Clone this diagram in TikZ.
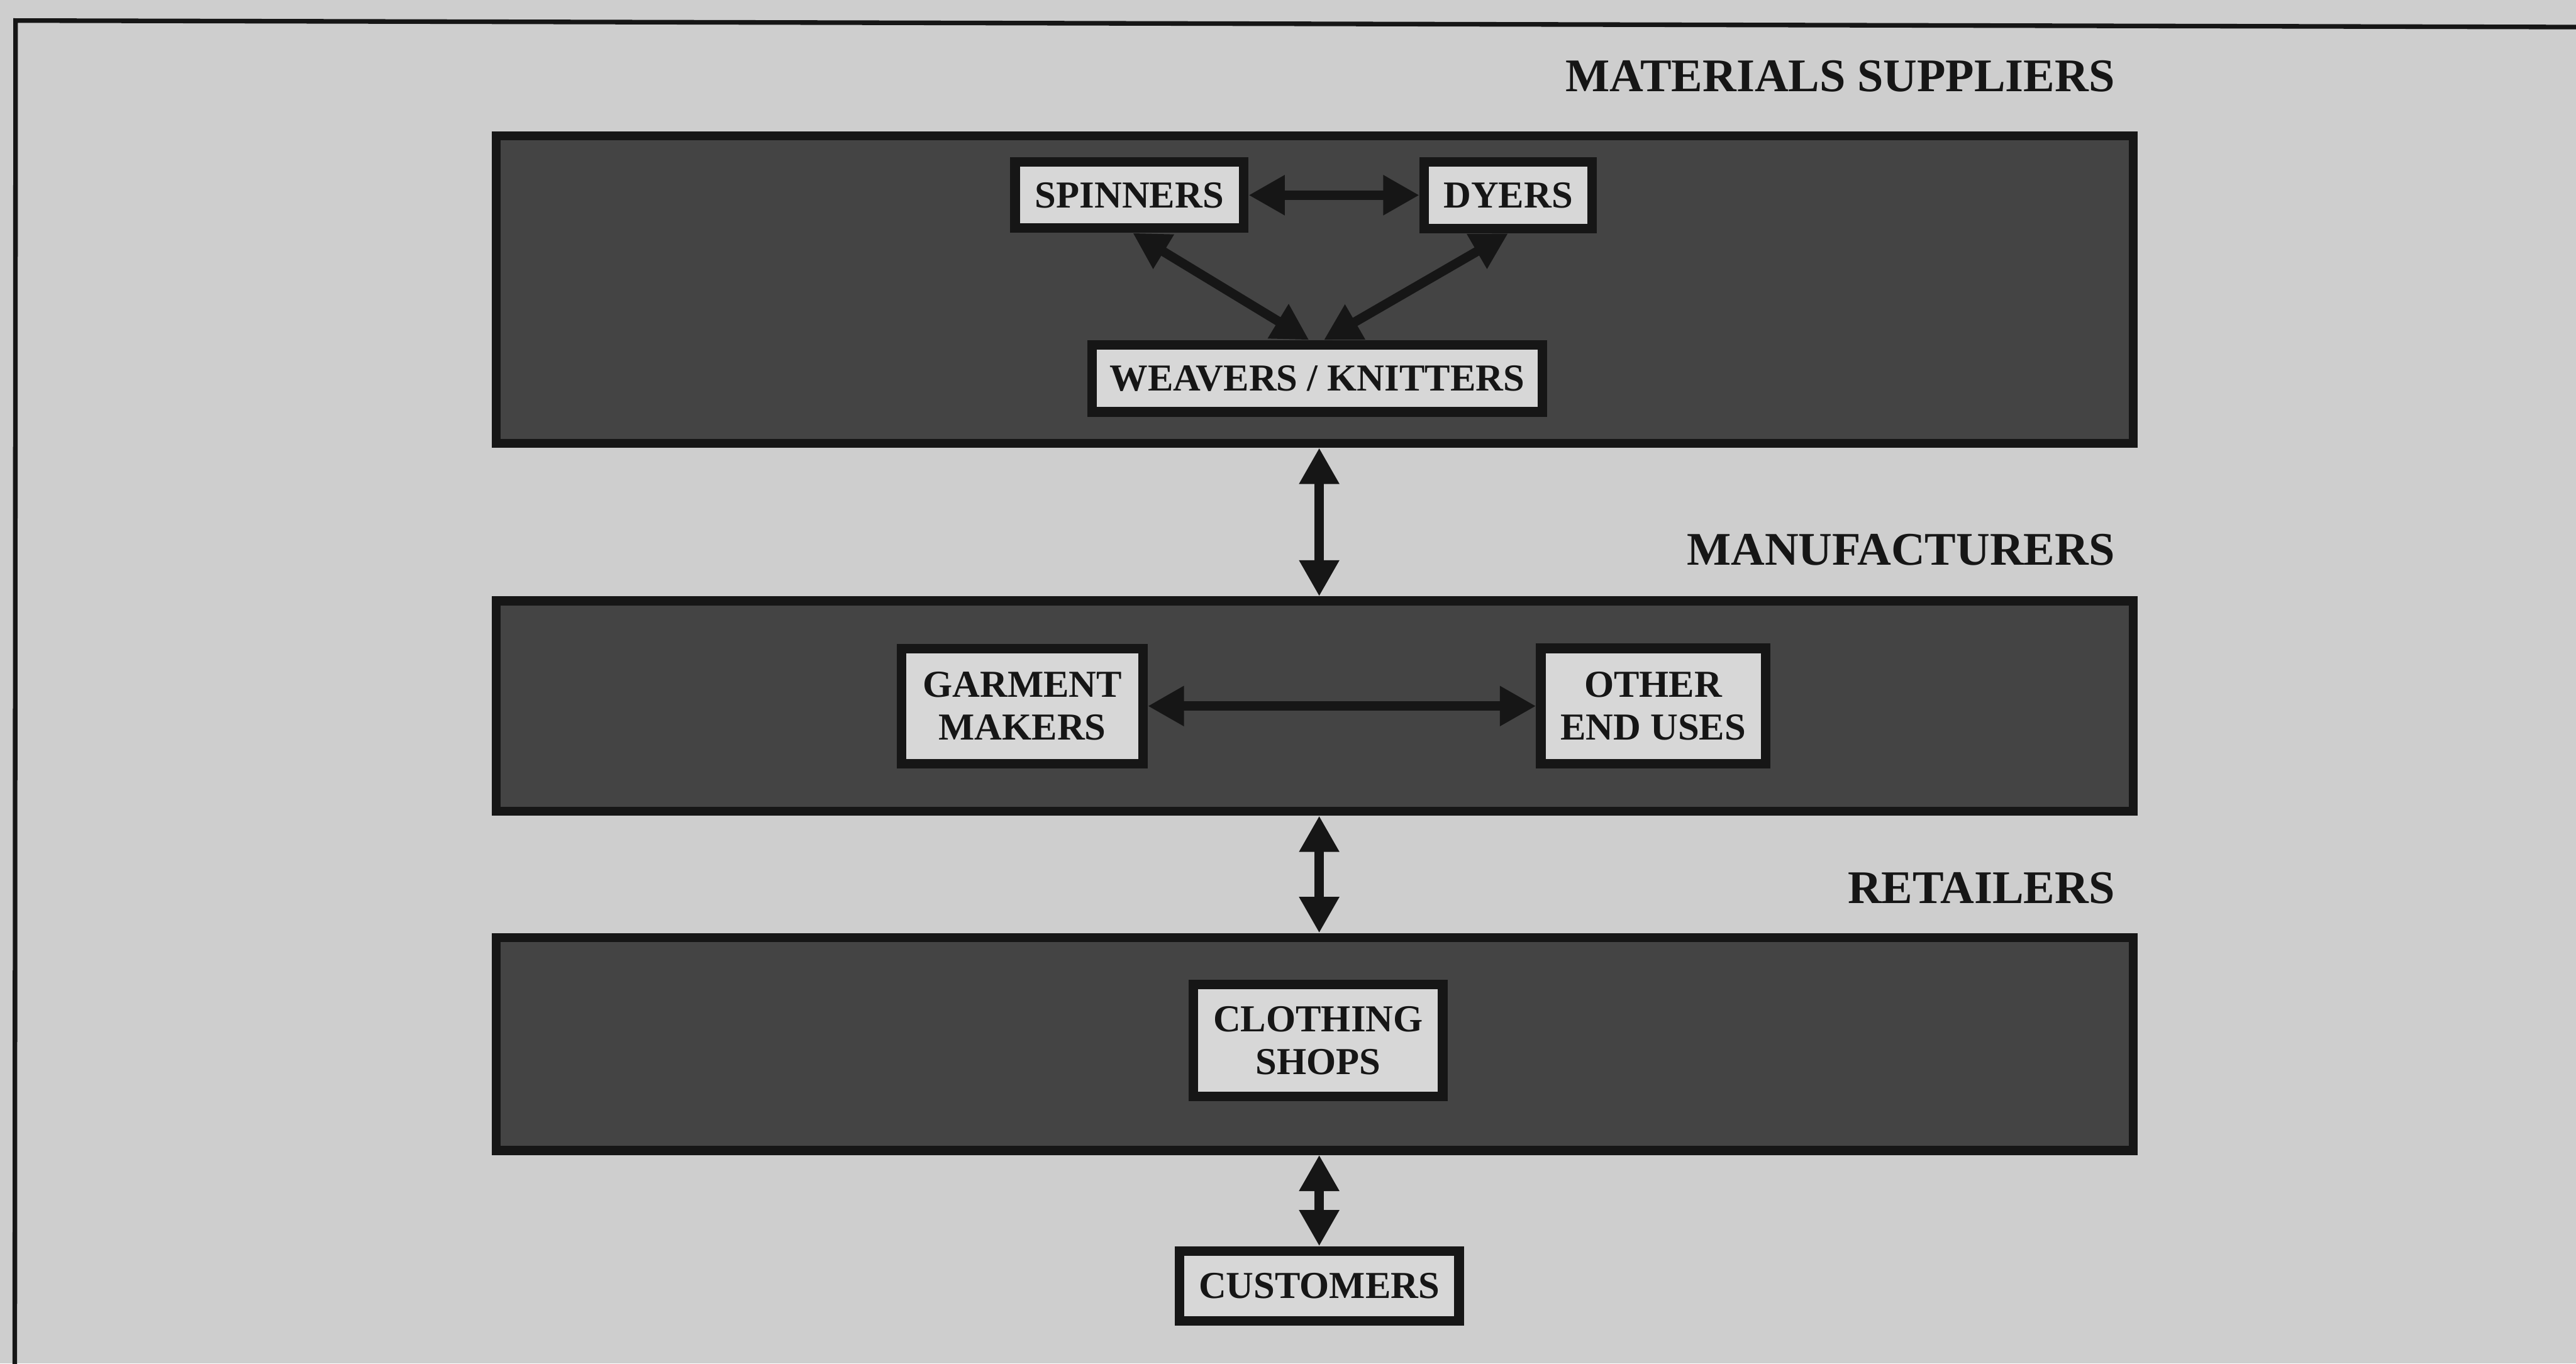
\documentclass[tikz,border=0pt]{standalone}
\usepackage{fontspec}
\setmainfont{Liberation Serif}
\usetikzlibrary{arrows.meta,calc}

\definecolor{paper}{RGB}{206,206,206}
\definecolor{tierfill}{RGB}{68,68,68}
\definecolor{cardfill}{RGB}{215,215,215}
\definecolor{ink}{RGB}{22,22,22}

\begin{document}
\begin{tikzpicture}[x=0.01cm, y=-0.01cm,
  tier/.style={draw=ink, fill=tierfill, line width=0.55mm, inner sep=0pt,
    minimum width=9.96cm},
  card/.style={draw=ink, fill=cardfill, line width=0.58mm, inner sep=0pt,
    align=center, text=ink, font=\fontsize{6.6pt}{7.4pt}\selectfont\bfseries},
  tierlabel/.style={anchor=base east, inner sep=0pt, text=ink,
    font=\fontsize{8.1pt}{9pt}\selectfont\bfseries},
  tip/.tip={Triangle[length=2.2mm, width=2.3mm]},
  link/.style={draw=ink, line width=0.57mm, tip-tip}]

  % page and outer frame
  \useasboundingbox (0,0) rectangle (1568,830);
  \fill[paper] (0,0) rectangle (1568,830);
  \draw[ink, line width=0.28mm] (1580,16.5) -- (9.5,12.5) -- (9,845);

  % tier headings
  \node[tierlabel] (lsup) at (1288,55.8) {MATERIALS SUPPLIERS};
  \node[tierlabel] (lman) at (1288,344) {MANUFACTURERS};
  \node[tierlabel] (lret) at (1288,550) {RETAILERS};

  % tiers
  \node[tier, minimum height=1.87cm]  (b1) at (800.3,176.3) {};
  \node[tier, minimum height=1.28cm]  (b2) at (800.3,429.8) {};
  \node[tier, minimum height=1.295cm] (b3) at (800.3,635.5) {};

  % boxes inside the tiers
  \node[card, minimum width=1.392cm, minimum height=0.402cm] (spin) at (687.5,118.8) {SPINNERS};
  \node[card, minimum width=1.022cm, minimum height=0.407cm] (dyer) at (918,118.8) {DYERS};
  \node[card, minimum width=2.738cm, minimum height=0.409cm] (weav) at (801.8,230.3) {WEAVERS / KNITTERS};
  \node[card, minimum width=1.468cm, minimum height=0.699cm] (garm) at (622.3,429.8) {GARMENT\\MAKERS};
  \node[card, minimum width=1.368cm, minimum height=0.702cm] (othr) at (1006.3,429.8) {OTHER\\END USES};
  \node[card, minimum width=1.517cm, minimum height=0.682cm] (clot) at (802.3,633.4) {CLOTHING\\SHOPS};
  \node[card, minimum width=1.702cm, minimum height=0.426cm] (cust) at (803,782.8) {CUSTOMERS};

  % links
  \draw[link] (spin.east) -- (dyer.west);
  \draw[link] ($(spin.south)+(2,0)$) -- ($(weav.north)+(-5,0)$);
  \draw[link] (dyer.south) -- ($(weav.north)+(4,0)$);
  \draw[link] (garm.east) -- (othr.west);
  \draw[link] (b1.south -| cust.north) -- (b2.north -| cust.north);
  \draw[link] (b2.south -| cust.north) -- (b3.north -| cust.north);
  \draw[link] (b3.south -| cust.north) -- (cust.north);
\end{tikzpicture}
\end{document}
